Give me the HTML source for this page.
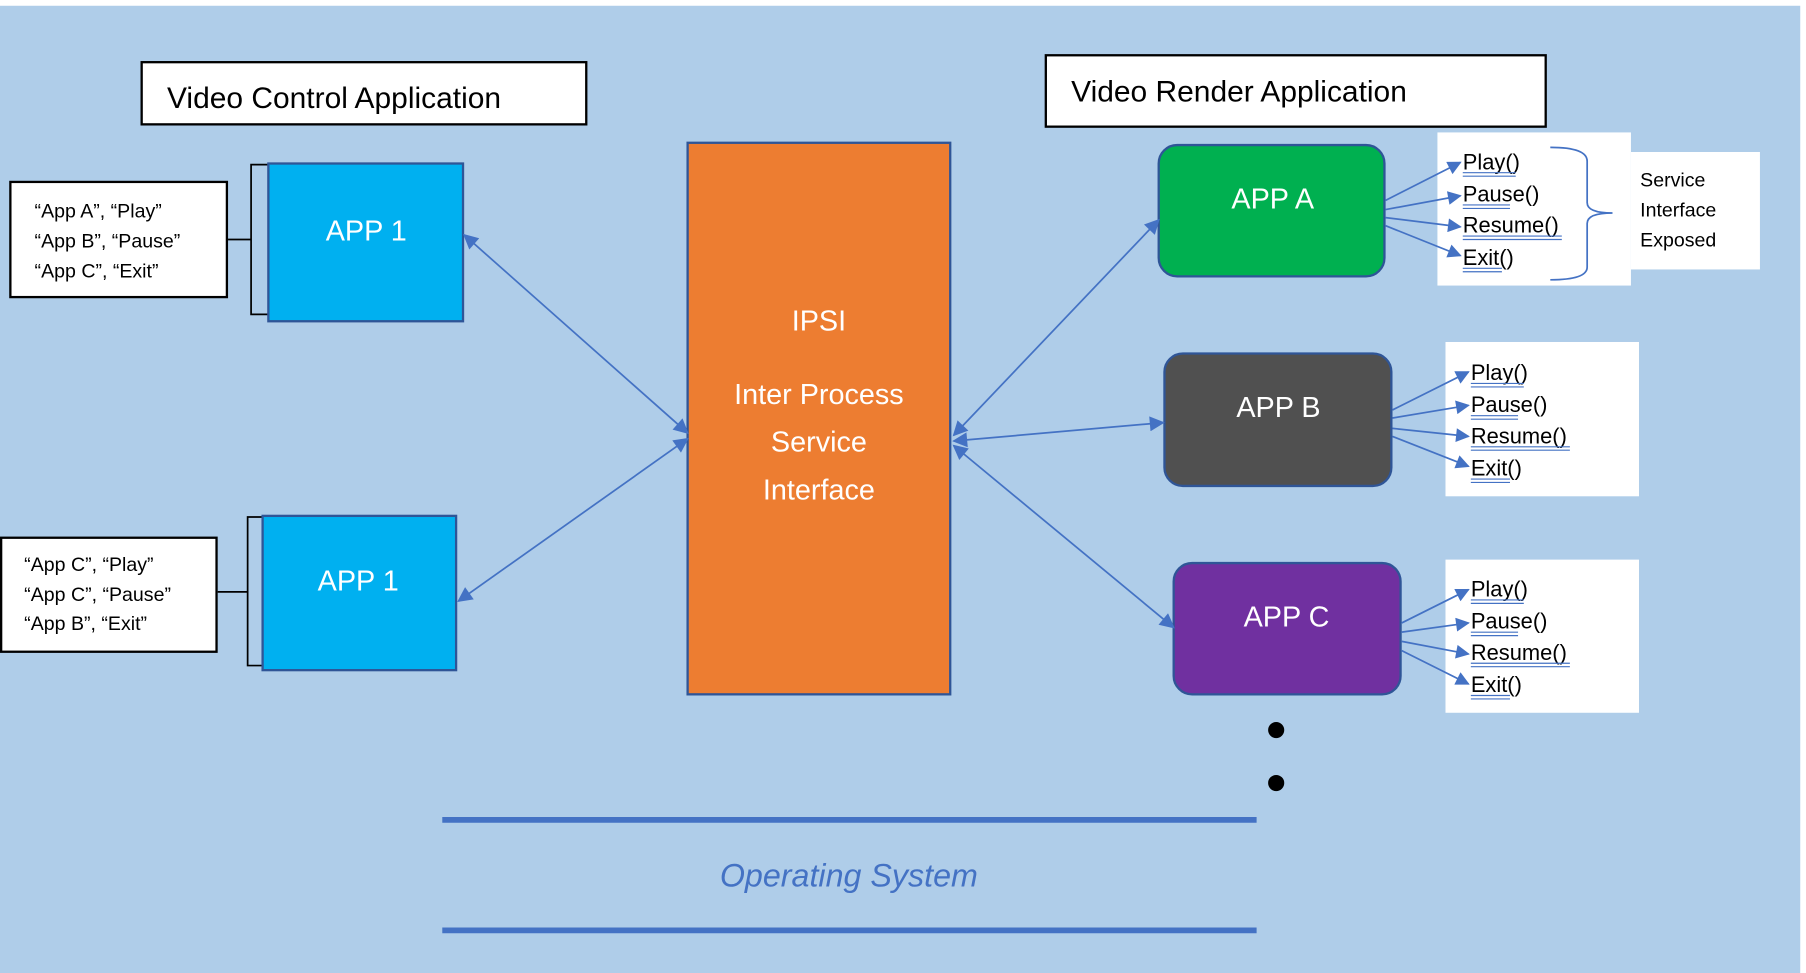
<!DOCTYPE html>
<html><head><meta charset="utf-8"><style>html,body{margin:0;padding:0;background:#fff}svg{display:block}text{font-family:"Liberation Sans",sans-serif}</style></head><body>
<svg width="1806" height="973" viewBox="0 0 1568 845" preserveAspectRatio="none" xmlns="http://www.w3.org/2000/svg">
<defs>
<marker id="ah" viewBox="0 0 10 10" refX="9" refY="5" markerWidth="15" markerHeight="13" orient="auto-start-reverse" markerUnits="userSpaceOnUse"><path d="M0,0L10,5L0,10z" fill="#4472c4"/></marker>
<marker id="as" viewBox="0 0 10 10" refX="9" refY="5" markerWidth="14" markerHeight="12" orient="auto" markerUnits="userSpaceOnUse"><path d="M0,0L10,5L0,10z" fill="#4472c4"/></marker>
</defs>
<rect x="0" y="0" width="1568" height="845" fill="#fff"/>
<rect x="0" y="5" width="1563" height="840" fill="#afcde9"/>
<g stroke="#000" stroke-width="2" fill="#fff">
<rect x="123" y="54" width="386" height="54"/>
<rect x="908" y="48" width="434" height="62"/>
<rect x="9" y="158" width="188" height="100"/>
<rect x="1" y="467" width="187" height="99"/>
</g>
<g font-size="26" fill="#000">
<text x="145" y="94">Video Control Application</text>
<text x="930" y="88">Video Render Application</text>
</g>
<g font-size="17" fill="#000">
<text x="30" y="189">“App A”, “Play”</text>
<text x="30" y="215">“App B”, “Pause”</text>
<text x="30" y="241">“App C”, “Exit”</text>
<text x="21" y="496">“App C”, “Play”</text>
<text x="21" y="522">“App C”, “Pause”</text>
<text x="21" y="547">“App B”, “Exit”</text>
</g>
<g fill="none" stroke="#000" stroke-width="1.5">
<path d="M235,143 H218 V208 L210,208 H198 M210,208 H218 V273 H235"/>
<path d="M229,449 H215 V514 L207,514 H189 M207,514 H215 V578 H229"/>
</g>
<g stroke="#2f5597" stroke-width="2">
<rect x="233" y="142" width="169" height="137" fill="#00b0f0"/>
<rect x="228" y="448" width="168" height="134" fill="#00b0f0"/>
<rect x="597" y="124" width="228" height="479" fill="#ed7d31"/>
<rect x="1006" y="126" width="196" height="114" rx="16" fill="#00b050"/>
<rect x="1011" y="307" width="197" height="115" rx="16" fill="#505050"/>
<rect x="1019" y="489" width="197" height="114" rx="16" fill="#7030a0"/>
</g>
<g font-size="25" fill="#fff" text-anchor="middle">
<text x="318" y="209">APP 1</text>
<text x="311" y="513">APP 1</text>
<text x="711" y="287">IPSI</text>
<text x="711" y="351">Inter Process</text>
<text x="711" y="392">Service</text>
<text x="711" y="434">Interface</text>
<text x="1105" y="181">APP A</text>
<text x="1110" y="362">APP B</text>
<text x="1117" y="544">APP C</text>
</g>
<g stroke="#4472c4" stroke-width="1.5" marker-start="url(#ah)" marker-end="url(#ah)">
<line x1="403" y1="204" x2="597" y2="376"/>
<line x1="398" y1="522" x2="597" y2="381"/>
<line x1="828" y1="378" x2="1006" y2="191"/>
<line x1="828" y1="383" x2="1010" y2="367"/>
<line x1="828" y1="387" x2="1019" y2="545"/>
</g>
<g fill="#fff">
<rect x="1248" y="115" width="168" height="133"/>
<rect x="1416" y="132" width="112" height="102"/>
<rect x="1255" y="297" width="168" height="134"/>
<rect x="1255" y="486" width="168" height="133"/>
</g>
<path d="M1346,128 Q1378,128 1378,140 V176 Q1378,185 1400,185 Q1378,185 1378,194 V232 Q1378,243 1346,243" fill="none" stroke="#4472c4" stroke-width="1.5"/>
<g font-size="17" fill="#000">
<text x="1424" y="162">Service</text>
<text x="1424" y="188">Interface</text>
<text x="1424" y="214">Exposed</text>
</g>
<g stroke="#4472c4" stroke-width="1.5" marker-end="url(#as)">
<line x1="1203" y1="174" x2="1268" y2="141"/>
<line x1="1203" y1="182" x2="1268" y2="170"/>
<line x1="1203" y1="189" x2="1268" y2="197"/>
<line x1="1203" y1="196" x2="1268" y2="222"/>
<line x1="1209" y1="356" x2="1275" y2="323"/>
<line x1="1209" y1="363" x2="1275" y2="352"/>
<line x1="1209" y1="372" x2="1275" y2="379"/>
<line x1="1209" y1="379" x2="1275" y2="405"/>
<line x1="1217" y1="541" x2="1275" y2="512"/>
<line x1="1217" y1="549" x2="1275" y2="541"/>
<line x1="1217" y1="557" x2="1275" y2="568"/>
<line x1="1217" y1="565" x2="1275" y2="594"/>
</g>
<g font-size="19" fill="#000">
<text x="1270" y="147">Play()</text><text x="1270" y="175">Pause()</text><text x="1270" y="202">Resume()</text><text x="1270" y="230">Exit()</text>
<text x="1277" y="330">Play()</text><text x="1277" y="358">Pause()</text><text x="1277" y="385">Resume()</text><text x="1277" y="413">Exit()</text>
<text x="1277" y="518">Play()</text><text x="1277" y="546">Pause()</text><text x="1277" y="573">Resume()</text><text x="1277" y="601">Exit()</text>
</g>
<g stroke="#4472c4" stroke-width="1">
<path d="M1270,150H1316M1270,153H1316M1270,178H1311M1270,181H1311M1270,205H1356M1270,208H1356M1270,233H1304M1270,236H1304"/>
<path d="M1277,333H1323M1277,336H1323M1277,361H1318M1277,364H1318M1277,388H1363M1277,391H1363M1277,416H1311M1277,419H1311"/>
<path d="M1277,521H1323M1277,524H1323M1277,549H1318M1277,552H1318M1277,576H1363M1277,579H1363M1277,604H1311M1277,607H1311"/>
</g>
<circle cx="1108" cy="634" r="7" fill="#000"/>
<circle cx="1108" cy="680" r="7" fill="#000"/>
<g stroke="#4472c4" stroke-width="5">
<line x1="384" y1="712" x2="1091" y2="712"/>
<line x1="384" y1="808" x2="1091" y2="808"/>
</g>
<text x="737" y="770" font-size="28" font-style="italic" fill="#4472c4" text-anchor="middle">Operating System</text>
</svg>
</body></html>
